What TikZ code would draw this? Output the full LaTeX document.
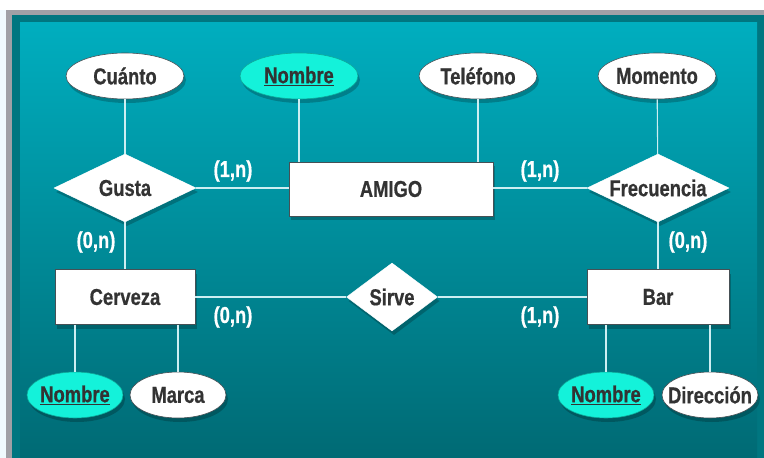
\documentclass[tikz,border=0pt]{standalone}
\usepackage{fontspec}
\setmainfont{Liberation Sans}[FakeStretch=0.8, BoldFeatures={FakeStretch=0.8, FakeBold=0.6}]
\usetikzlibrary{shapes.geometric,shadows}
\definecolor{bgtop}{RGB}{0,174,191}
\definecolor{bgbot}{RGB}{0,106,116}
\definecolor{frame}{RGB}{160,160,166}
\definecolor{darkteal}{RGB}{0,118,128}
\definecolor{keycyan}{RGB}{20,242,218}
\definecolor{txtgray}{RGB}{51,51,51}
\definecolor{linec}{RGB}{205,238,242}
\definecolor{outl}{RGB}{70,80,85}
\tikzset{
  sh/.style={drop shadow={shadow xshift=2pt, shadow yshift=-4pt, opacity=0.22, fill=black}},
  txt/.style={font=\fontsize{23}{26}\selectfont\bfseries, text=txtgray, inner sep=0pt},
  card/.style={font=\fontsize{23}{26}\selectfont\bfseries, text=white, inner sep=0pt},
  attr/.style={ellipse, fill=white, draw=outl, line width=0.6pt, minimum width=118pt, minimum height=46pt, inner sep=0pt, sh},
  keyattr/.style={attr, fill=keycyan, draw=keycyan!70!black},
  sattr/.style={attr, minimum width=96pt},
  skeyattr/.style={keyattr, minimum width=96pt},
  rel/.style={diamond, fill=white, draw=white, line width=0.4pt, minimum width=142pt, minimum height=68pt, inner sep=0pt, sh},
  ent/.style={rectangle, fill=white, draw=outl, line width=0.6pt, inner sep=0pt, sh},
  conn/.style={draw=linec, line width=1.1pt}
}
\begin{document}
\begin{tikzpicture}[x=1pt,y=-1pt]
\useasboundingbox (0,0) rectangle (764,458);
% background and frame
\fill[white] (0,0) rectangle (764,458);
\fill[cyan!6] (0,10) rectangle (6,458);
\fill[frame] (6,10) rectangle (764,458);
\fill[darkteal] (12,15) rectangle (764,458);
\shade[top color=bgtop, bottom color=bgbot] (20,22) rectangle (757,458);

% nodes
\node[attr, label={[txt]center:Cuánto}] (cuanto) at (125,76) {};
\node[keyattr, label={[txt]center:\underline{Nombre}}] (nomA) at (299,76) {};
\node[attr, label={[txt]center:Teléfono}] (tel) at (478,76) {};
\node[attr, label={[txt]center:Momento}] (mom) at (657,76) {};

\node[rel, label={[txt]center:Gusta}] (gusta) at (125,188) {};
\node[ent, minimum width=204pt, minimum height=54pt, label={[txt]center:AMIGO}] (amigo) at (391,189) {};
\node[rel, label={[txt]center:Frecuencia}] (frec) at (658,188) {};

\node[ent, minimum width=140pt, minimum height=55pt, label={[txt]center:Cerveza}] (cerv) at (125,297) {};
\node[rel, minimum width=91pt, label={[txt]center:Sirve}] (sirve) at (392,297) {};
\node[ent, minimum width=142pt, minimum height=55pt, label={[txt]center:Bar}] (bar) at (658,297) {};

\node[skeyattr, label={[txt]center:\underline{Nombre}}] (nomC) at (75,395) {};
\node[sattr, label={[txt]center:Marca}] (marca) at (178,395) {};
\node[skeyattr, label={[txt]center:\underline{Nombre}}] (nomB) at (606,395) {};
\node[sattr, label={[txt]center:Dirección}] (dir) at (710,395) {};

% connectors
\draw[conn] (cuanto) -- (gusta);
\draw[conn] (nomA.south) -- (nomA.south |- amigo.north);
\draw[conn] (tel.south) -- (tel.south |- amigo.north);
\draw[conn] (mom) -- (frec);
\draw[conn] (gusta.east) -- (gusta.east -| amigo.west);
\draw[conn] (frec.west) -- (frec.west -| amigo.east);
\draw[conn] (gusta) -- (cerv);
\draw[conn] (frec) -- (bar);
\draw[conn] (cerv.east) -- (sirve.west);
\draw[conn] (sirve.east) -- (bar.west);
\draw[conn] (nomC.north) -- (nomC.north |- cerv.south);
\draw[conn] (marca.north) -- (marca.north |- cerv.south);
\draw[conn] (nomB.north) -- (nomB.north |- bar.south);
\draw[conn] (dir.north) -- (dir.north |- bar.south);

% cardinalities
\node[card] (c1) at (233,171) {(1,n)};
\node[card] (c2) at (540,171) {(1,n)};
\node[card] (c3) at (96,242) {(0,n)};
\node[card] (c4) at (688,242) {(0,n)};
\node[card] (c5) at (233,317) {(0,n)};
\node[card] (c6) at (540,317) {(1,n)};
\end{tikzpicture}
\end{document}
